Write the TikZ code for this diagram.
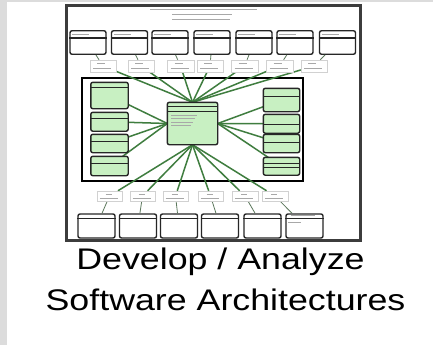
\documentclass[tikz,border=0pt]{standalone}
\usepackage{fontspec}
\setmainfont{Liberation Sans}
\definecolor{stripgray}{HTML}{DCDCDC}
\definecolor{framegray}{HTML}{3C3C3C}
\definecolor{boxgreen}{HTML}{C8F0C2}
\definecolor{conngreen}{HTML}{3F7D3F}
\definecolor{scribgray}{HTML}{A8A8A8}
\tikzset{
  frameouter/.style={draw=framegray,line width=3pt},
  frameinner/.style={draw=black,line width=1.6pt},
  wbox/.style={draw=black!85,line width=1.4pt,rounded corners=2pt,fill=white,inner sep=0pt},
  gbox/.style={wbox,fill=boxgreen},
  lblbox/.style={draw=black!18,line width=0.5pt,fill=white,inner sep=0pt},
  conn/.style={draw=conngreen,line width=1.5pt},
  thinconn/.style={draw=black!40!conngreen!75,line width=0.8pt},
  hdr/.style={draw=black!85,line width=1.2pt},
  scrib/.style={draw=scribgray,line width=0.7pt},
  caption/.style={font=\fontsize{29.8}{34}\selectfont,anchor=base,xscale=1.2,inner sep=0pt}
}
\begin{document}
\begin{tikzpicture}[x=1pt,y=-1pt]
\useasboundingbox (0,0) rectangle (433,345);
\fill[white] (0,0) rectangle (433,345);
\fill[stripgray] (0,0) rectangle (7,345);
\fill[stripgray] (0,0) rectangle (433,2.5);

% outer frame
\draw[frameouter] (66.5,5.5) rectangle (360,240.5);
% title (illegible small text)
\draw[scrib] (150,9) -- (257,9);
\draw[scrib] (172,14.5) -- (232,14.5);
\draw[scrib] (172,19.5) -- (230,19.5);

% inner frame
\draw[frameinner] (82,78) rectangle (303,181);

% top boxes
\foreach \n/\x in {1/88,2/129.5,3/170,4/212,5/254,6/295,7/337.5}{
  \node[wbox,minimum width=36pt,minimum height=23.5pt] (t\n) at (\x,42.5) {};
  \draw[hdr] ([yshift=-8pt]t\n.north west) -- ([yshift=-8pt]t\n.north east);
  \draw[scrib] ([xshift=3pt,yshift=-4pt]t\n.north west) -- ([xshift=20pt,yshift=-4pt]t\n.north west);
}
% top labels
\foreach \n/\x in {1/103,2/141,3/180.5,4/210,5/244.5,6/279.5,7/314}{
  \node[lblbox,minimum width=26pt,minimum height=12pt] (l\n) at (\x,66) {};
}
% center box
\node[gbox,minimum width=49pt,minimum height=41pt] (c) at (192.5,123.5) {};
% left boxes
\node[gbox,minimum width=36pt,minimum height=25pt] (L1) at (109.5,95.5) {};
\node[gbox,minimum width=36pt,minimum height=17.5pt] (L2) at (109.5,121.75) {};
\node[gbox,minimum width=36pt,minimum height=17pt] (L3) at (109.5,143.5) {};
\node[gbox,minimum width=36pt,minimum height=18pt] (L4) at (109.5,166) {};
% right boxes
\node[gbox,minimum width=35pt,minimum height=22pt] (R1) at (281.5,100) {};
\node[gbox,minimum width=35pt,minimum height=17.5pt] (R2) at (281.5,123.75) {};
\node[gbox,minimum width=35pt,minimum height=17pt] (R3) at (281.5,143.5) {};
\node[gbox,minimum width=35pt,minimum height=16.5pt] (R4) at (281.5,166.25) {};
% bottom labels
\foreach \n/\x in {1/109.5,2/142.5,3/175.5,4/210.5,5/245,6/275}{
  \node[lblbox,minimum width=25pt,minimum height=10pt] (b\n) at (\x,196) {};
}
% bottom boxes
\foreach \n/\x in {1/96.5,2/138,3/179,4/220,5/262.5,6/304.5}{
  \node[wbox,minimum width=37pt,minimum height=24pt] (bb\n) at (\x,226) {};
  \draw[hdr] ([yshift=-5pt]bb\n.north west) -- ([yshift=-5pt]bb\n.north east);
}
\draw[scrib] ([xshift=6pt,yshift=-2.5pt]bb6.north west) -- ([xshift=30pt,yshift=-2.5pt]bb6.north west);
\draw[scrib] ([xshift=3pt,yshift=-9pt]bb6.north west) -- ([xshift=16pt,yshift=-9pt]bb6.north west);

% connectors
\foreach \n in {1,...,7}{
  \draw[thinconn] (t\n) -- (l\n);
  \draw[conn] (l\n) -- (c.north);
}
\foreach \n in {1,...,6}{
  \draw[conn] (c.south) -- (b\n);
  \draw[thinconn] (b\n) -- (bb\n);
}
\foreach \n in {1,...,4}{
  \draw[conn] (L\n) -- (c.west);
  \draw[conn] (R\n) -- (c.east);
}

% redraw boxes on top of connectors
\foreach \n in {c,L1,L2,L3,L4,R1,R2,R3,R4}{
  \draw[gbox] (\n.north west) rectangle (\n.south east);
}
\foreach \n in {1,...,7}{
  \draw[lblbox] (l\n.north west) rectangle (l\n.south east);
  \draw[scrib] ([xshift=-6pt,yshift=3pt]l\n.center) -- ([xshift=2pt,yshift=3pt]l\n.center);
  \draw[scrib] ([xshift=-10pt,yshift=-2pt]l\n.center) -- ([xshift=8pt,yshift=-2pt]l\n.center);
}
\foreach \n in {1,...,6}{
  \draw[lblbox] (b\n.north west) rectangle (b\n.south east);
  \draw[scrib] ([xshift=-4pt,yshift=2pt]b\n.center) -- ([xshift=2pt,yshift=2pt]b\n.center);
  \draw[scrib] ([xshift=-10pt,yshift=-2pt]b\n.center) -- ([xshift=8pt,yshift=-2pt]b\n.center);
}
% headers of green boxes
\draw[hdr] ([yshift=-4pt]c.north west) -- ([yshift=-4pt]c.north east);
\draw[hdr] ([yshift=-9pt]c.north west) -- ([yshift=-9pt]c.north east);
\foreach \i in {0,1,2,3}{
  \draw[scrib] ([xshift=4pt,yshift={(-13-3.5*\i)*1pt}]c.north west) -- ([xshift={(30-2*\i)*1pt},yshift={(-13-3.5*\i)*1pt}]c.north west);
}
\draw[hdr] ([yshift=-5pt]L1.north west) -- ([yshift=-5pt]L1.north east);
\draw[hdr] ([yshift=-6pt]L2.north west) -- ([yshift=-6pt]L2.north east);
\draw[hdr] ([yshift=-7pt]L3.north west) -- ([yshift=-7pt]L3.north east);
\draw[hdr] ([yshift=-7pt]L4.north west) -- ([yshift=-7pt]L4.north east);
\draw[hdr] ([yshift=-8pt]R1.north west) -- ([yshift=-8pt]R1.north east);
\draw[hdr] ([yshift=-10pt]R2.north west) -- ([yshift=-10pt]R2.north east);
\draw[hdr] ([yshift=-8pt]R3.north west) -- ([yshift=-8pt]R3.north east);
\draw[hdr] ([yshift=-6pt]R4.north west) -- ([yshift=-6pt]R4.north east);
\draw[hdr] ([yshift=-10pt]R4.north west) -- ([yshift=-10pt]R4.north east);

% caption
\node[caption] (cap1) at (220.5,269.5) {Develop / Analyze};
\node[caption] (cap2) at (225.5,310.5) {Software Architectures};
\end{tikzpicture}
\end{document}
